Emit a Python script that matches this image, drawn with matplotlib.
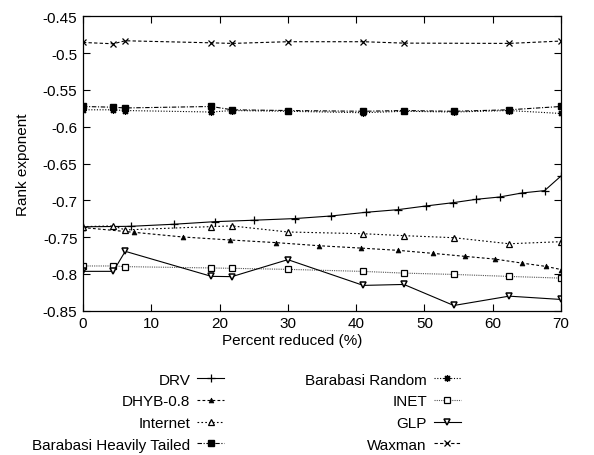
import matplotlib
matplotlib.use("Agg")
from matplotlib import pyplot as plt

plt.rcParams["font.family"] = ["Liberation Sans", "DejaVu Sans"]
plt.rcParams["axes.unicode_minus"] = False

# ---------------------------------------------------------------- data
drv_x = [0, 7.0, 13.3, 19.3, 25.1, 31.0, 36.3, 41.4, 46.1, 50.2, 54.2, 57.6, 61.0, 64.3, 67.6, 70]
drv_y = [-0.736, -0.7353, -0.7325, -0.729, -0.727, -0.7248, -0.7213, -0.7163,
         -0.7127, -0.7077, -0.7032, -0.6986, -0.6955, -0.690, -0.6868, -0.667]

dhyb_x = [0, 7.4, 14.6, 21.6, 28.3, 34.6, 40.7, 46.2, 51.3, 56.0, 60.3, 64.3, 67.8, 70]
dhyb_y = [-0.737, -0.7434, -0.7498, -0.7539, -0.7575, -0.7617, -0.7649, -0.768,
          -0.7721, -0.7762, -0.7798, -0.7853, -0.7898, -0.794]

# the topology generators share one set of sample points
gen_x = [0, 4.43, 6.19, 18.8, 21.8, 30.0, 41.05, 47.0, 54.3, 62.4, 70]
internet_y = [-0.7357, -0.7348, -0.7402, -0.7357, -0.7348, -0.743, -0.7454,
              -0.748, -0.7508, -0.759, -0.7562]
bht_y = [-0.5725, -0.5735, -0.5745, -0.5725, -0.577, -0.578, -0.579, -0.578,
         -0.579, -0.577, -0.5725]
brand_y = [-0.577, -0.577, -0.578, -0.580, -0.578, -0.579, -0.581, -0.579,
           -0.580, -0.578, -0.582]
inet_y = [-0.7892, -0.7892, -0.7901, -0.7919, -0.7924, -0.7938, -0.7966,
          -0.7989, -0.8007, -0.8034, -0.8057]
glp_y = [-0.7965, -0.7965, -0.7693, -0.8033, -0.8037, -0.7806, -0.8156,
         -0.8143, -0.8429, -0.8302, -0.8347]

waxman_x = [0, 4.43, 6.19, 18.8, 21.8, 30.0, 41.05, 47.0, 62.4, 70]
waxman_y = [-0.4855, -0.4873, -0.4832, -0.486, -0.4868, -0.4845, -0.4845,
            -0.4864, -0.4868, -0.4836]

x_ticks = [0, 10, 20, 30, 40, 50, 60, 70]
y_ticks = [-0.85, -0.8, -0.75, -0.7, -0.65, -0.6, -0.55, -0.5, -0.45]

# ---------------------------------------------------------------- plot
fig = plt.figure(figsize=(5.94, 4.56), dpi=100)
ax = fig.add_axes([0.1397, 0.3164, 0.8047, 0.6456])

lw = 0.8
ax.plot(drv_x, drv_y, "-", color="k", lw=lw, marker="+", ms=6, mew=0.9, label="DRV")
ax.plot(dhyb_x, dhyb_y, color="k", lw=lw, ls=(0, (2.5, 2)), marker="^", ms=3.5,
        mew=0.5, label="DHYB-0.8")
ax.plot(gen_x, internet_y, color="k", lw=lw, ls=(0, (1.5, 2)), marker="^", ms=4.5,
        mfc="white", mew=0.9, label="Internet")
ax.plot(gen_x, bht_y, color="k", lw=lw, ls=(0, (4, 1.5, 1, 1.5)), marker="s", ms=4.5,
        label="Barabasi Heavily Tailed")
ax.plot(gen_x, brand_y, color="k", lw=lw, ls=(0, (1, 1.5)), marker=(8, 2, 0), ms=5,
        mew=0.9, label="Barabasi Random")
ax.plot(gen_x, inet_y, color="#555555", lw=lw, ls=(0, (1, 1)), marker="s", ms=4.5,
        mfc="white", mec="k", mew=0.9, label="INET")
ax.plot(gen_x, glp_y, "-", color="k", lw=lw, marker="v", ms=5, mfc="white", mew=1.1,
        label="GLP")
ax.plot(waxman_x, waxman_y, color="k", lw=lw, ls=(0, (3, 2)), marker="x", ms=4,
        mew=0.9, label="Waxman")

ax.set_xlim(0, 70)
ax.set_ylim(-0.85, -0.45)
ax.set_xticks(x_ticks)
ax.set_yticks(y_ticks)
ax.set_yticklabels(["%g" % v for v in y_ticks])
ax.tick_params(direction="in", top=True, right=True, length=5, width=0.8,
               labelsize=11, pad=4)
for s in ax.spines.values():
    s.set_linewidth(0.9)

ax.set_xlabel("Percent reduced (%)", fontsize=11, labelpad=2)
ax.xaxis.set_label_coords(0.437, -0.075)
ax.set_ylabel("Rank exponent", fontsize=11, labelpad=9)

fig.legend(loc="upper center", bbox_to_anchor=(0.415, 0.197), ncol=2,
           frameon=False, markerfirst=False, fontsize=11, handlelength=1.75,
           handletextpad=0.45, columnspacing=5.3, labelspacing=0.5, borderpad=0)

fig.savefig("out.png", dpi=100)
